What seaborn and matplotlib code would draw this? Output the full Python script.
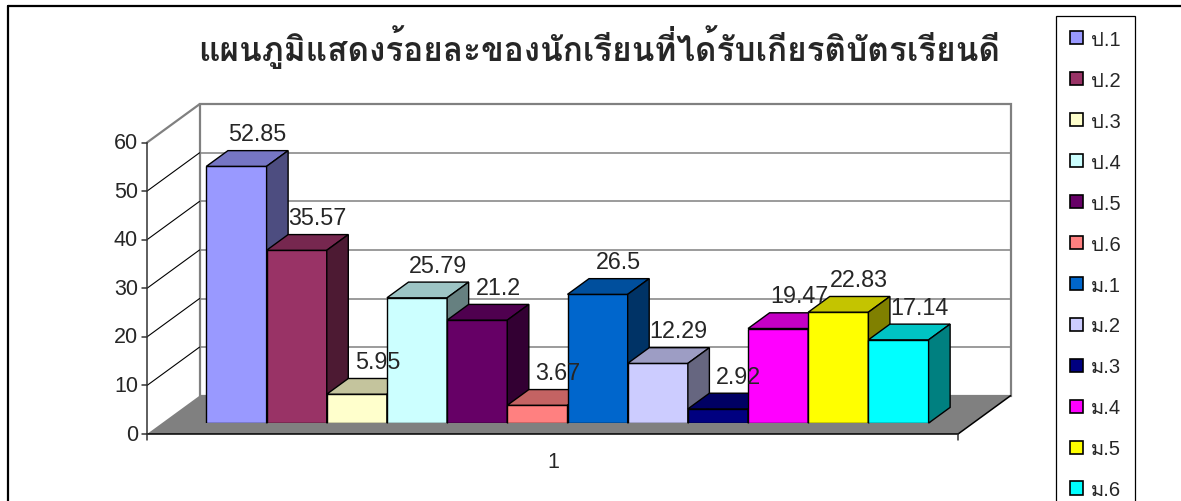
import numpy as np
import pandas as pd
import matplotlib
matplotlib.use("Agg")
import matplotlib.pyplot as plt
import seaborn as sns
from matplotlib.patches import Polygon, Patch
from matplotlib.lines import Line2D
import matplotlib.colors as mcolors

# ---------------- data ----------------
title = "แผนภูมิแสดงร้อยละของนักเรียนที่ได้รับเกียรติบัตรเรียนดี"
grades = ["ป.1", "ป.2", "ป.3", "ป.4", "ป.5", "ป.6",
          "ม.1", "ม.2", "ม.3", "ม.4", "ม.5", "ม.6"]
percent = [52.85, 35.57, 5.95, 25.79, 21.2, 3.67,
           26.5, 12.29, 2.92, 19.47, 22.83, 17.14]
colors = ["#9999FF", "#993366", "#FFFFCC", "#CCFFFF", "#660066", "#FF8080",
          "#0066CC", "#CCCCFF", "#000080", "#FF00FF", "#FFFF00", "#00FFFF"]
category = ["1"] * len(grades)
y_ticks = [0, 10, 20, 30, 40, 50, 60]

THAI = "Loma"
sns.set_style("white")
plt.rcParams["font.family"] = ["Liberation Sans", THAI, "DejaVu Sans"]

W, H = 1181, 502
fig = plt.figure(figsize=(W / 100, H / 100), dpi=100)
fig.patch.set_facecolor("white")


def fx(px):
    return px / W


def fy(py):
    return 1 - py / H


ax = fig.add_axes([fx(162), fy(424.1), 811 / W, 291.5 / H])
df = pd.DataFrame({"category": category, "grade": grades, "percent": percent})
sns.barplot(data=df, x="category", y="percent", hue="grade", hue_order=grades,
            palette=colors, width=0.8905, saturation=1, edgecolor="black",
            linewidth=1.0, legend=False, ax=ax)
ax.set_xlim(-0.5, 0.5)
ax.set_ylim(0, 60)
ax.axis("off")

ppx = ax.transData.transform((1, 0))[0] - ax.transData.transform((0, 0))[0]
ppy = ax.transData.transform((0, 1))[1] - ax.transData.transform((0, 0))[1]
DX, DY = 52.5, 38.3
BP, BD = 0.285, 0.41


def P(x, y, d):
    r = d - BP
    return (x + r * DX / ppx, y + r * DY / ppy)


def shade(c, k):
    r, g, b, a = mcolors.to_rgba(c)
    return (r * k, g * k, b * k, 1)


# back wall
ax.add_patch(Polygon([P(-.5, 0, 1), P(.5, 0, 1), P(.5, 60, 1), P(-.5, 60, 1)],
                     closed=True, fc="white", ec="#808080", lw=1.6,
                     zorder=0.5, clip_on=False))
for v in y_ticks[1:]:
    if v < 60:
        ax.add_line(Line2D(*zip(P(-.5, v, 1), P(.5, v, 1)), color="#808080",
                           lw=1.1, zorder=0.6, clip_on=False))
        ax.add_line(Line2D(*zip(P(-.5, v, 0), P(-.5, v, 1)), color="black",
                           lw=0.8, zorder=0.6, clip_on=False))
    else:
        ax.add_line(Line2D(*zip(P(-.5, v, 0), P(-.5, v, 1)), color="#808080",
                           lw=1.6, zorder=0.6, clip_on=False))
# floor
ax.add_patch(Polygon([P(-.5, 0, 0), P(.5, 0, 0), P(.5, 0, 1), P(-.5, 0, 1)],
                     closed=True, fc="#808080", ec="none", zorder=0.8,
                     clip_on=False))
ax.add_line(Line2D(*zip(P(-.5, 0, 0), P(.5, 0, 0)), color="black", lw=1.1,
                   zorder=0.85, clip_on=False))
ax.add_line(Line2D(*zip(P(.5, 0, 0), P(.5, 0, 1)), color="black", lw=1.1,
                   zorder=0.85, clip_on=False))
# front value axis
ax.add_line(Line2D(*zip(P(-.5, 0, 0), P(-.5, 60, 0)), color="#333333", lw=1.1,
                   zorder=0.9, clip_on=False))
for v in y_ticks:
    x, y = P(-.5, v, 0)
    ax.add_line(Line2D([x - 5 / ppx, x], [y, y], color="#333333", lw=1.1,
                       zorder=0.9, clip_on=False))
    ax.text(x - 9 / ppx, y, str(v), ha="right", va="center", fontsize=15.5,
            clip_on=False)
for xe in (-.5, .5):
    x, y = P(xe, 0, 0)
    ax.add_line(Line2D([x, x], [y, y - 6 / ppy], color="#333333", lw=1.1,
                       zorder=0.9, clip_on=False))
x, y = P(0, 0, 0)
ax.text(x + 1 / ppx, y - 27 / ppy, category[0], ha="center", va="center",
        fontsize=15.5)

# 3D extrusion of bars drawn by seaborn
for i, cont in enumerate(ax.containers):
    for bar in cont:
        x0, w, h = bar.get_x(), bar.get_width(), bar.get_height()
        z = 3 + 3 * i
        bar.set_zorder(z)
        fc = bar.get_facecolor()
        ax.add_patch(Polygon([P(x0, h, BP), P(x0 + w, h, BP),
                              P(x0 + w, h, BP + BD), P(x0, h, BP + BD)],
                             closed=True, fc=shade(fc, 0.77), ec="black",
                             lw=1.0, zorder=z + 1, clip_on=False))
        ax.add_patch(Polygon([P(x0 + w, 0, BP), P(x0 + w, h, BP),
                              P(x0 + w, h, BP + BD), P(x0 + w, 0, BP + BD)],
                             closed=True, fc=shade(fc, 0.5), ec="black",
                             lw=1.0, zorder=z + 1, clip_on=False))
        lx, ly = P(x0 + w / 2, h, BP + BD / 2)
        ax.text(lx + 10 / ppx, ly + 24.7 / ppy, f"{h:g}", ha="center",
                va="center", fontsize=16.8, zorder=100, clip_on=False)

# title
fig.text(fx(599), fy(47), title, ha="center", va="center", fontsize=24,
         fontweight="bold", family=[THAI, "DejaVu Sans"])

# legend
handles = [Patch(facecolor=c.patches[0].get_facecolor(), edgecolor="black",
                 linewidth=1.2) for c in ax.containers]
leg = fig.legend(handles, grades, loc="upper left",
                 bbox_to_anchor=(fx(1055.7), fy(16.7)),
                 bbox_transform=fig.transFigure, frameon=True, fancybox=False,
                 edgecolor="black", framealpha=1, borderaxespad=0,
                 fontsize=14.5, handlelength=0.65, handleheight=0.65,
                 handletextpad=0.4, labelspacing=1.09, borderpad=0.7)
leg.get_frame().set_linewidth(0.9)

# outer chart border
fig.add_artist(Line2D([fx(8), fx(W + 5)], [fy(7), fy(7)], color="black",
                      lw=1.6, transform=fig.transFigure))
fig.add_artist(Line2D([fx(8), fx(8)], [fy(7), fy(H + 5)], color="black",
                      lw=1.6, transform=fig.transFigure))

fig.savefig("out.png", dpi=100, facecolor="white")
